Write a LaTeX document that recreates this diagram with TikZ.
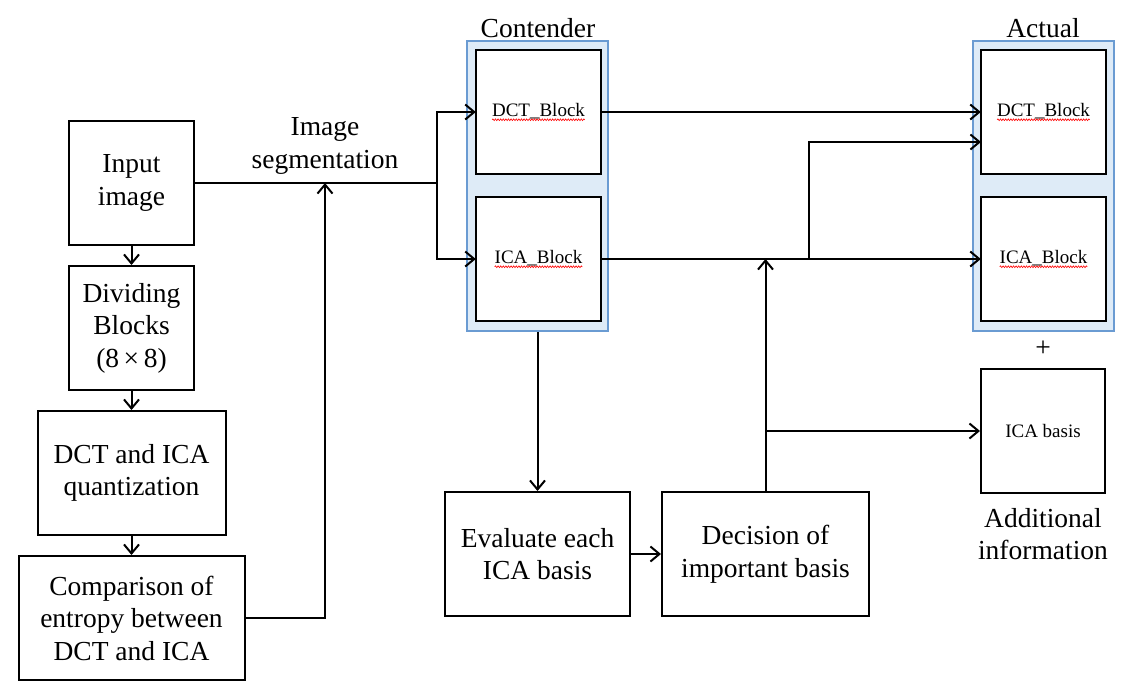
\documentclass[tikz,border=0pt]{standalone}
\usepackage{fontspec}
\setmainfont{Liberation Serif}
\usepackage{tikz}
\usetikzlibrary{arrows.meta, positioning, decorations.pathmorphing}

\definecolor{panelfill}{HTML}{DEEBF7}
\definecolor{paneldraw}{HTML}{6A9BD2}

% red spell-check wave under a word
\newcommand{\spellmark}[1]{\tikz[baseline=(w.base)]{\node[draw=none,fill=none,inner sep=0pt,outer sep=0pt,
    minimum width=0pt,minimum height=0pt] (w) {#1};
  \draw[-,red,line width=0.6pt,decorate,decoration={snake,amplitude=0.9pt,segment length=2.6pt}]
    ([yshift=-3.5pt]w.base west) -- ([yshift=-3.5pt]w.base east);}}

\begin{document}
\begin{tikzpicture}[x=1pt,y=-1pt,>={Straight Barb[length=9pt,width=15pt]},line width=2pt,
                    node distance=145pt]
\tikzstyle{block}=[draw=black,fill=white,align=center,inner sep=2pt,minimum width=125pt,minimum height=124pt]
\tikzstyle{panel}=[draw=paneldraw,fill=panelfill,line width=2pt,minimum width=141pt,minimum height=290pt]
\tikzset{font=\fontsize{27.5}{32.5}\selectfont}
\tikzset{small/.style={font=\fontsize{19}{22}\selectfont}}

\useasboundingbox (0,0) rectangle (1140,697);

        % left column
        \node[block]                        (input)                  at (131.5,183) {Input\\image};
        \node[block]                        (divide)  [below of=input]   {Dividing\\Blocks\\(8\,×\,8)};
        \node[block, minimum width=188pt]   (quant)   [below of=divide]  {DCT and ICA\\quantization};
        \node[block, minimum width=226pt]   (compare) [below of=quant]   {Comparison of\\entropy between\\DCT and ICA};

        % contender panel
        \node[panel]                        (contender)              at (537.5,186) {};
        \node[draw=none]                                             at (538,28) {Contender};
        \node[block, small]                 (cdct)                   at (538.5,112) {\spellmark{DCT\_Block}};
        \node[block, small, node distance=147pt] (cica) [below of=cdct] {\spellmark{ICA\_Block}};

        % actual panel
        \node[panel]                        (actual)                 at (1043.5,186) {};
        \node[draw=none]                                             at (1043,28) {Actual};
        \node[block, small]                 (adct)                   at (1043.5,112) {\spellmark{DCT\_Block}};
        \node[block, small, node distance=147pt] (aica) [below of=adct] {\spellmark{ICA\_Block}};

        \node[draw=none]                    (plus)                   at (1043,349) {+};
        \node[block, small, minimum width=124pt] (basis)             at (1043,431) {ICA basis};
        \node[draw=none, align=center]      (addinfo)                at (1043,534) {Additional\\information};

        % bottom row
        \node[block, minimum width=185pt]   (evaluate)               at (537.5,554) {Evaluate each\\ICA basis};
        \node[block, minimum width=207pt]   (decide)                 at (765.5,554) {Decision of\\important basis};

        \node[draw=none, align=center]      (seglabel)               at (325,146) {Image\\segmentation};

        \coordinate (split)  at (437,183);
        \coordinate (seg)    at (325,183);
        \coordinate (lift)   at (809,259);
        \coordinate (adctin) at (981,142);
        \coordinate (merge)  at (765.5,259);
        \coordinate (fork)   at (765.5,431);

        \path[->]
        (input)    edge node {} (divide)
        (divide)   edge node {} (quant)
        (quant)    edge node {} (compare)
        (cdct)     edge node {} (adct)
        (cica)     edge node {} (aica)
        (contender) edge node {} (evaluate)
        (evaluate) edge node {} (decide)
        ; %end path

        \draw (input.east) -- (split);
        \draw[->] (split) |- (cdct.west);
        \draw[->] (split) |- (cica.west);
        \draw[->] (compare.east) -| (seg);
        \draw[->] (lift) |- (adctin);
        \draw[->] (decide.north) -- (merge);
        \draw[->] (fork) -- (basis.west);

\end{tikzpicture}
\end{document}
